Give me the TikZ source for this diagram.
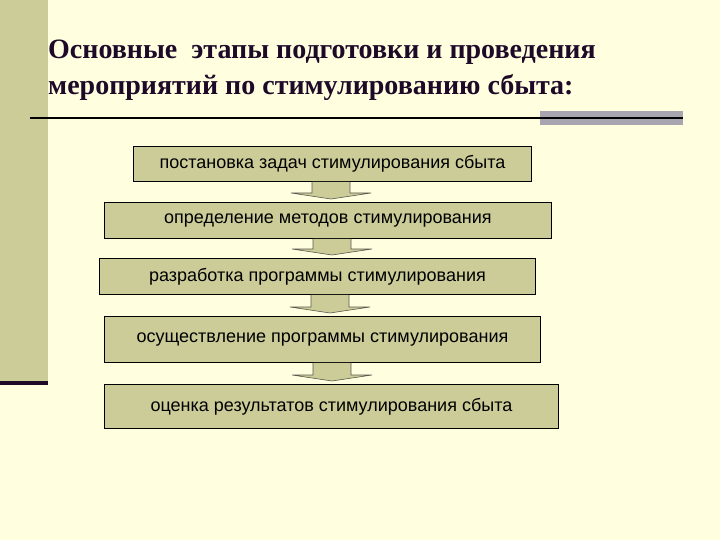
\documentclass[tikz,border=0pt]{standalone}
\usetikzlibrary{calc}
\usepackage{fontspec}
\setmainfont{Liberation Serif}
\newfontfamily\boxfont{Liberation Sans}
\definecolor{bg}{RGB}{255,255,224}
\definecolor{olive}{RGB}{204,204,153}
\definecolor{bargray}{RGB}{168,164,176}
\definecolor{titlecol}{RGB}{30,10,40}
\definecolor{arrowedge}{RGB}{90,90,80}
\tikzset{
  stepbox/.style={draw=black, line width=0.9pt, fill=olive, anchor=north west, inner sep=0pt,
    font=\boxfont\fontsize{18}{20}\selectfont, text=black},
  titletext/.style={anchor=west, font=\bfseries\fontsize{28}{32}\selectfont, text=titlecol, inner sep=0pt},
  flowarrow/.style={fill=olive, draw=arrowedge, line width=0.6pt},
}
\begin{document}
\begin{tikzpicture}[x=1pt,y=-1pt]
\useasboundingbox (0,0) rectangle (720,540);
\fill[bg] (0,0) rectangle (720,540);
\fill[olive] (0,0) rectangle (48,381);
\fill[titlecol] (0,381) rectangle (48,385);
\node[titletext] (t1) at (48,52) {Основные\ \ этапы подготовки и проведения};
\node[titletext] (t2) at (48,88) {мероприятий по стимулированию сбыта:};
\fill[bargray] (540,111) rectangle (683,125);
\draw[black, line width=1.2pt] (30,118) -- (683,118);
\node[stepbox, minimum width=398pt, minimum height=35pt] (b1) at (133,146) {постановка задач стимулирования сбыта};
\node[stepbox, minimum width=447pt, minimum height=36pt] (b2) at (104,202) {определение методов стимулирования};
\node[stepbox, minimum width=436pt, minimum height=36pt] (b3) at (99,258) {разработка программы стимулирования};
\node[stepbox, minimum width=436pt, minimum height=46pt] (b4) at (104,316) {осуществление программы стимулирования};
\node[stepbox, minimum width=454pt, minimum height=44pt] (b5) at (104,384) {оценка результатов стимулирования сбыта};
\foreach \a/\b/\cx in {b1/b2/331, b2/b3/332, b3/b4/330, b4/b5/332}{
  \draw[flowarrow] let \p1=(\a.south), \p2=(\b.north) in
    (\cx pt-19pt,\y1) -- (\cx pt-19pt,\y2+9pt) -- (\cx pt-40pt,\y2+9pt) -- (\cx pt,\y2+3pt)
    -- (\cx pt+40pt,\y2+9pt) -- (\cx pt+19pt,\y2+9pt) -- (\cx pt+19pt,\y1);
}
\end{tikzpicture}
\end{document}
